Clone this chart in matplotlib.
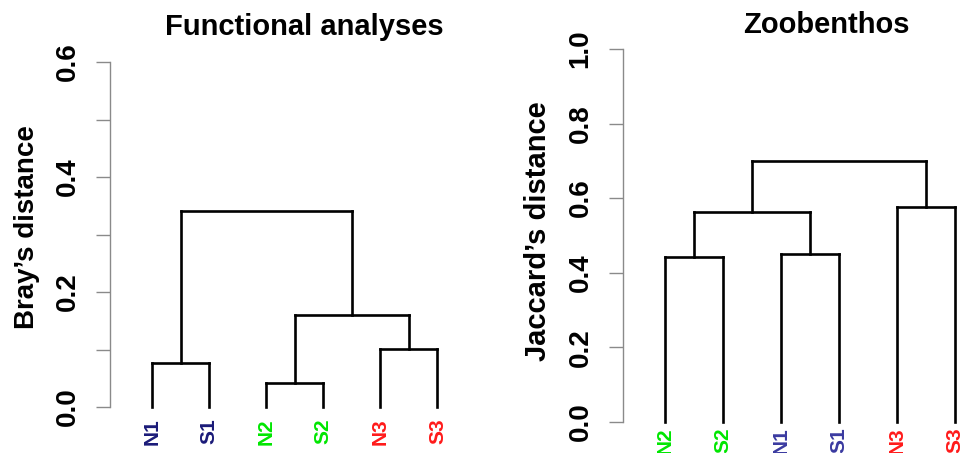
import numpy as np
import matplotlib
matplotlib.use("Agg")
import matplotlib.pyplot as plt

plt.rcParams['font.family'] = ['Liberation Sans', 'DejaVu Sans']

# functional analyses (Bray-Curtis)
fun_labels = ['N1', 'S1', 'N2', 'S2', 'N3', 'S3']
fun_colors = ['#1a1a78', '#1a1a78', '#00e600', '#00e600', '#ff1a1a', '#ff1a1a']
# merges: (left node, right node, height); nodes >= 6 are earlier merges
fun_merges = [(0, 1, 0.077), (2, 3, 0.042), (4, 5, 0.101), (7, 8, 0.160), (6, 9, 0.341)]

# zoobenthos (Jaccard)
zoo_labels = ['N2', 'S2', 'N1', 'S1', 'N3', 'S3']
zoo_colors = ['#00e600', '#00e600', '#3a3aa0', '#3a3aa0', '#ff1a1a', '#ff1a1a']
zoo_merges = [(0, 1, 0.443), (2, 3, 0.450), (4, 5, 0.575), (6, 7, 0.563), (8, 9, 0.700)]


def draw_dendro(ax, labels, colors, merges, pad):
    n = len(labels)
    xs = list(range(1, n + 1))
    hs = [0.0] * n
    for a, b, h in merges:
        for c in (a, b):
            ax.plot([xs[c], xs[c]], [hs[c], h], color='black', lw=1.9,
                    solid_capstyle='projecting', clip_on=False)
        ax.plot([xs[a], xs[b]], [h, h], color='black', lw=1.9,
                solid_capstyle='projecting', clip_on=False)
        xs.append((xs[a] + xs[b]) / 2)
        hs.append(h)
    ax.set_xticks(range(1, n + 1))
    ax.set_xticklabels(labels, rotation=90, fontsize=15, fontweight='bold')
    for t, c in zip(ax.get_xticklabels(), colors):
        t.set_color(c)
    ax.tick_params(axis='x', length=0, pad=pad)


def style_axis(ax, ymax, step, label_every):
    for s in ('top', 'right', 'bottom'):
        ax.spines[s].set_visible(False)
    ax.spines['left'].set_color('#8a8a8a')
    ax.spines['left'].set_linewidth(1.0)
    ax.spines['left'].set_bounds(0, ymax)
    ticks = np.round(np.arange(0, ymax + step / 2, step), 2)
    ax.set_yticks(ticks)
    labs = ['%.1f' % t if i % label_every == 0 else '' for i, t in enumerate(ticks)]
    ax.set_yticklabels(labs, rotation=90, va='center', fontsize=20, fontweight='bold')
    ax.tick_params(axis='y', length=10, width=1.0, color='#8a8a8a', pad=11)
    ax.set_ylim(0, ymax)


W, H = 966, 453
fig = plt.figure(figsize=(W / 100, H / 100), dpi=100)

ax1 = fig.add_axes([110 / W, 46 / H, 356 / W, 345 / H])
draw_dendro(ax1, fun_labels, fun_colors, fun_merges, 8)
style_axis(ax1, 0.6, 0.1, 2)
ax1.set_xlim(1 - 42 / 57, 6.5)

ax2 = fig.add_axes([622.7 / W, 31.3 / H, (W - 622.7) / W, 372.7 / H])
draw_dendro(ax2, zoo_labels, zoo_colors, zoo_merges, 4)
style_axis(ax2, 1.0, 0.2, 1)
ax2.set_xlim(1 - 42.3 / 58, 6 + 11 / 58)

fig.text(304 / W, 1 - 27 / H, 'Functional analyses', ha='center', va='center',
         fontsize=21, fontweight='bold')
fig.text(826 / W, 1 - 25 / H, 'Zoobenthos', ha='center', va='center',
         fontsize=21, fontweight='bold')
fig.text(27 / W, 1 - 227 / H, 'Bray\u2019s distance', ha='center', va='center',
         rotation=90, fontsize=20, fontweight='bold')
fig.text(538 / W, 1 - 231 / H, 'Jaccard\u2019s distance', ha='center', va='center',
         rotation=90, fontsize=21, fontweight='bold')

fig.savefig('out.png', dpi=100)
